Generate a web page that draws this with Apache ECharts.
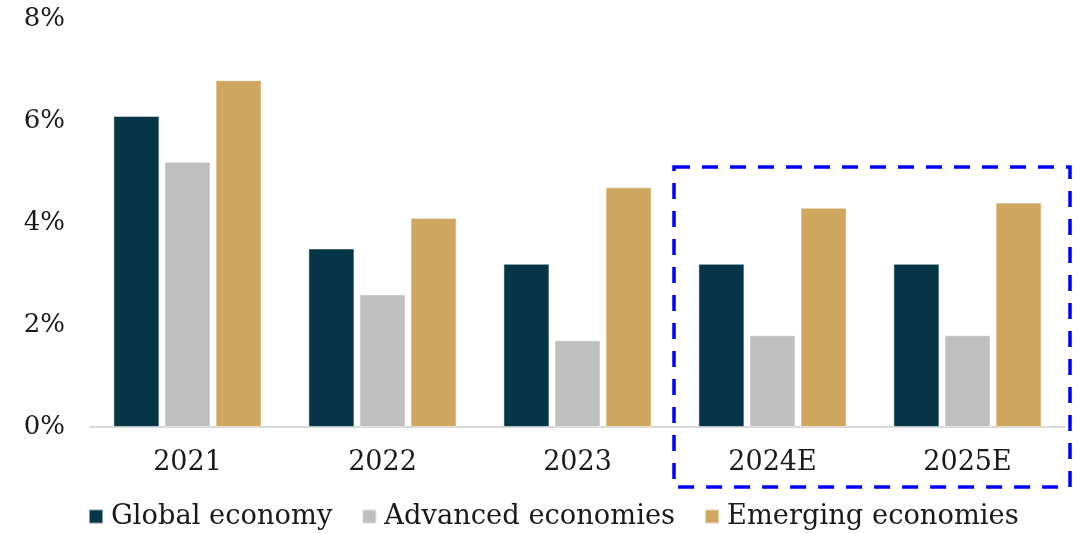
<!DOCTYPE html>
<html>
<head>
<meta charset="utf-8">
<script src="https://cdn.jsdelivr.net/npm/echarts@6/dist/echarts.min.js"></script>
<style>
html,body{margin:0;padding:0;background:#fff;}
#chart{width:1077px;height:533px;}
</style>
</head>
<body>
<div id="chart"></div>
<script>
// Real GDP growth by year, with 2024 and 2025 as estimates
const years = ['2021', '2022', '2023', '2024E', '2025E'];
const globalEconomy = [6.1, 3.5, 3.2, 3.2, 3.2];
const advancedEconomies = [5.2, 2.6, 1.7, 1.8, 1.8];
const emergingEconomies = [6.8, 4.1, 4.7, 4.3, 4.4];
const seriesNames = ['Global economy', 'Advanced economies', 'Emerging economies'];
const yTicks = [0, 2, 4, 6, 8];

const FONT = 'DejaVu Serif';
const TEXT = '#1a1a1a';
const chart = echarts.init(document.getElementById('chart'));

const barStyle = (color) => ({ color: color, borderColor: 'rgba(255,255,255,0.5)', borderWidth: 1 });

chart.setOption({
  animation: false,
  textStyle: { fontFamily: FONT },
  grid: { left: 90, right: 12, top: 19, bottom: 106 },
  legend: {
    bottom: -2,
    left: 83,
    itemWidth: 14,
    itemHeight: 14,
    itemGap: 29,
    icon: 'rect',
    textStyle: { fontFamily: FONT, fontSize: 27.3, color: TEXT, padding: [0, 0, 0, 3] },
    data: seriesNames
  },
  xAxis: {
    type: 'category',
    data: years,
    axisLine: { lineStyle: { color: '#d9d9d9', width: 2 } },
    axisTick: { show: false },
    axisLabel: { fontFamily: FONT, fontSize: 27, color: TEXT, margin: 22 }
  },
  yAxis: {
    type: 'value',
    min: yTicks[0],
    max: yTicks[yTicks.length - 1],
    interval: 2,
    splitLine: { show: false },
    axisLine: { show: false },
    axisTick: { show: false },
    axisLabel: { fontFamily: FONT, fontSize: 26, color: TEXT, margin: 25, formatter: '{value}%' }
  },
  series: [
    { name: seriesNames[0], type: 'bar', data: globalEconomy, barGap: '11%', barCategoryGap: '24%', itemStyle: barStyle('#053547') },
    { name: seriesNames[1], type: 'bar', data: advancedEconomies, itemStyle: barStyle('#bfbfbf') },
    { name: seriesNames[2], type: 'bar', data: emergingEconomies, itemStyle: barStyle('#cfa760') }
  ]
});

// Dashed frame around the estimate years
const c2023 = chart.convertToPixel({ xAxisIndex: 0 }, '2023');
const c2024 = chart.convertToPixel({ xAxisIndex: 0 }, '2024E');
const c2025 = chart.convertToPixel({ xAxisIndex: 0 }, '2025E');
const boxLeft = (c2023 + c2024) / 2 - 1;
const boxRight = c2025 + (c2025 - c2024) / 2 + 5;
const boxTop = chart.convertToPixel({ yAxisIndex: 0 }, 5.1);
const boxBottom = chart.convertToPixel({ yAxisIndex: 0 }, 0) + 60;
chart.setOption({
  graphic: [{
    type: 'rect',
    shape: { x: boxLeft, y: boxTop, width: boxRight - boxLeft, height: boxBottom - boxTop },
    style: { fill: 'none', stroke: '#0000ff', lineWidth: 3.5, lineDash: [16, 12] },
    z: 100
  }]
});
</script>
</body>
</html>
